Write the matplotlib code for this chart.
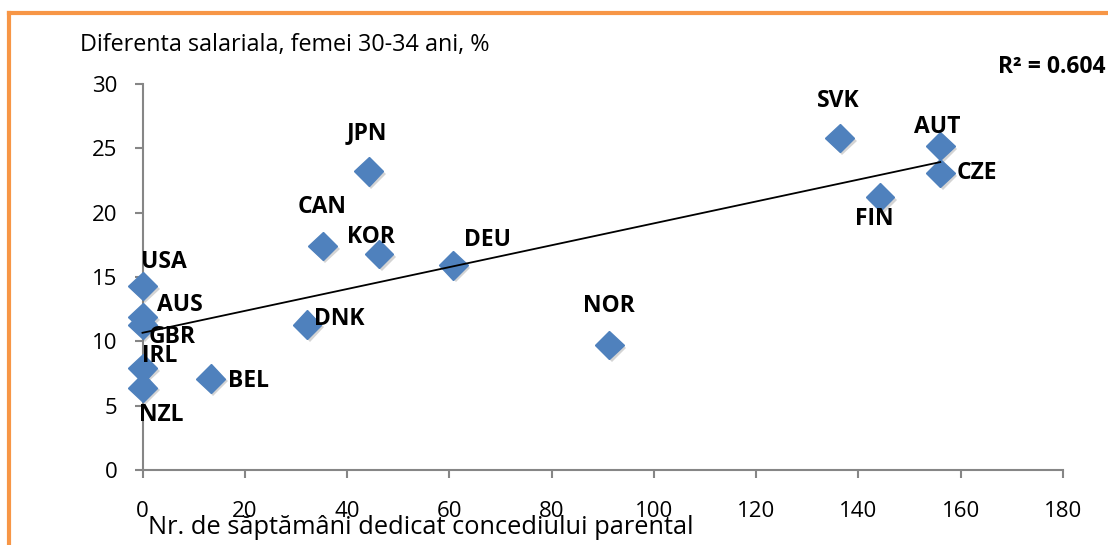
import numpy as np
import matplotlib.pyplot as plt
import matplotlib.patheffects as pe
from matplotlib.lines import Line2D

plt.rcParams['font.family'] = ['Open Sans', 'DejaVu Sans']

# date
tari = ['USA', 'AUS', 'GBR', 'IRL', 'NZL', 'BEL', 'DNK', 'CAN', 'JPN', 'KOR',
        'DEU', 'NOR', 'SVK', 'AUT', 'CZE', 'FIN']
saptamani = [0, 0, 0, 0, 0, 13.3, 32.2, 35.2, 44.2, 46.2,
             60.8, 91.3, 136.3, 156, 156, 144.2]
diferenta = [14.3, 11.9, 11.3, 7.9, 6.4, 7.1, 11.3, 17.4, 23.2, 16.8,
             15.9, 9.7, 25.8, 25.2, 23.1, 21.2]
# pozitia etichetelor fata de punct (pixeli)
offset_etichete = [(21, 24), (37, 12), (30, -12), (17, 12), (19, -27), (38, -2),
                   (32, 6), (0, 39), (-2, 38), (-8, 17), (34, 25), (-1, 39),
                   (-1, 37), (-3, 19), (37, 0), (-6, -22)]
r2_text = 'R² = 0.604'

albastru = '#4F81BD'
gri = '#868686'
portocaliu = '#F79646'

fig = plt.figure(figsize=(11.08, 5.45), dpi=100)
ax = fig.add_axes([142.5 / 1108, 75 / 545, 920.5 / 1108, 386 / 545])

ax.plot(saptamani, diferenta, linestyle='none', marker='D', markersize=14.5,
        color=albastru, zorder=3, clip_on=False,
        path_effects=[pe.SimplePatchShadow(offset=(2, -2), shadow_rgbFace='#555555',
                                           alpha=0.25), pe.Normal()])

# linia de tendinta
x = np.array(saptamani)
y = np.array(diferenta)
a, b = np.polyfit(x, y, 1)
xs = np.array([x.min(), x.max()])
ax.plot(xs, a * xs + b, color='black', linewidth=1.3, zorder=4, clip_on=False)

for t, xi, yi, (dx, dy) in zip(tari, saptamani, diferenta, offset_etichete):
    ax.annotate(t, (xi, yi), xytext=(dx * 0.72, dy * 0.72), textcoords='offset points',
                ha='center', va='center', fontsize=16.5, fontweight='bold', zorder=5)

ax.set_xlim(0, 180)
ax.set_ylim(0, 30)
ax.set_xticks(np.arange(0, 181, 20))
ax.set_yticks(np.arange(0, 31, 5))
for s in ['top', 'right']:
    ax.spines[s].set_visible(False)
for s in ['left', 'bottom']:
    ax.spines[s].set_color(gri)
    ax.spines[s].set_linewidth(1.5)
ax.tick_params(axis='both', direction='out', length=6, width=1.5, color=gri,
               labelsize=16)
ax.tick_params(axis='y', pad=12)
ax.tick_params(axis='x', pad=16)

fig.text(80 / 1108, 1 - 45 / 545, 'Diferenta salariala, femei 30-34 ani, %',
         fontsize=16.8, va='center', ha='left')
fig.text(148 / 1108, 1 - 528 / 545, 'Nr. de săptămâni dedicat concediului parental',
         fontsize=18.3, va='center', ha='left')
fig.text(1106 / 1108, 1 - 67 / 545, r2_text, fontsize=16.5, fontweight='bold',
         va='center', ha='right')

# chenar portocaliu
fig.add_artist(Line2D([9 / 1108, 1], [1 - 13 / 545, 1 - 13 / 545],
                      transform=fig.transFigure, color=portocaliu, linewidth=3))
fig.add_artist(Line2D([9 / 1108, 9 / 1108], [0, 1 - 13 / 545],
                      transform=fig.transFigure, color=portocaliu, linewidth=3))

fig.savefig('out.png', dpi=100)
